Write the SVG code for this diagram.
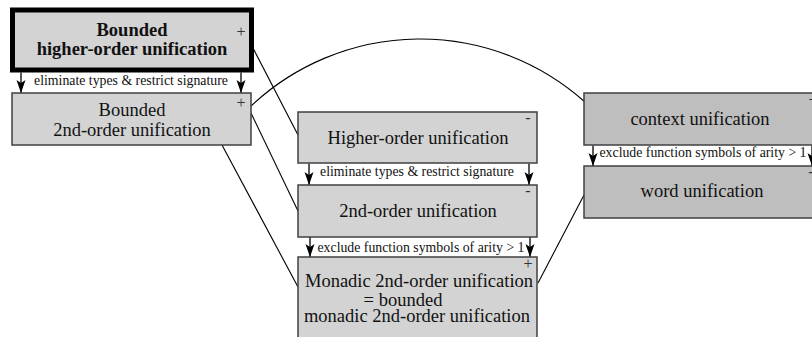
<svg xmlns="http://www.w3.org/2000/svg" width="812" height="337" viewBox="0 0 812 337">
<defs>
<marker id="ah" markerUnits="userSpaceOnUse" markerWidth="14" markerHeight="12" viewBox="-13 -6 14 12" refX="0" refY="0" orient="auto">
<path d="M0,0 L-13,-4.5 L-10,0 L-13,4.5 Z" fill="#000"/>
</marker>
<style>
.n{fill:#d3d3d3;stroke:#404040;stroke-width:1.5}
.d{fill:#bebebe;stroke:#404040;stroke-width:1.5}
text{font-family:'Liberation Serif','DejaVu Serif',serif}
.t{font-size:18.5px;fill:#111;text-anchor:middle}
.b{font-weight:bold}
.s{font-size:16px;fill:#333;text-anchor:middle}
.l{font-size:13.8px;fill:#111;text-anchor:middle}
.c{fill:none;stroke:#000;stroke-width:1.1}
.a{fill:none;stroke:#000;stroke-width:1.3;marker-end:url(#ah)}
</style>
</defs>
<rect width="812" height="337" fill="#fff"/>
<g id="connectors">
<path class="c" d="M253,48 L298,135"/>
<path class="c" d="M251,106 A247,247 0 0,1 585,102"/>
<path class="c" d="M251,113 L298,211"/>
<path class="c" d="M222,145 L298,287"/>
<path class="c" d="M538,283 L584,195"/>
<path class="a" d="M21,72.5 L21,93"/>
<path class="a" d="M241,72.5 L241,93"/>
<text class="l" x="131" y="85">eliminate types &amp; restrict signature</text>
<path class="a" d="M309,163.5 L309,185"/>
<path class="a" d="M529,163.5 L529,185"/>
<text class="l" x="417" y="176">eliminate types &amp; restrict signature</text>
<path class="a" d="M310,237 L310,257"/>
<path class="a" d="M530,237 L530,257"/>
<text class="l" x="421" y="252">exclude function symbols of arity &gt; 1</text>
<path class="a" d="M593,145.5 L593,166"/>
<path class="a" d="M812,145.5 L812,166"/>
<text class="l" x="703" y="157">exclude function symbols of arity &gt; 1</text>
</g>
<g id="bounded-ho">
<rect x="12.5" y="10" width="239" height="60" fill="#d3d3d3" stroke="#000" stroke-width="5"/>
<text class="t b" x="132" y="36">Bounded</text>
<text class="t b" x="132" y="55">higher-order unification</text>
<text class="s" x="241" y="37">+</text>
</g>
<g id="bounded-2nd">
<rect class="n" x="12" y="93" width="239" height="52"/>
<text class="t" x="132" y="116">Bounded</text>
<text class="t" x="132" y="136">2nd-order unification</text>
<text class="s" x="241" y="108">+</text>
</g>
<g id="ho">
<rect class="n" x="298" y="112" width="239" height="51"/>
<text class="t" x="418" y="144">Higher-order unification</text>
<text class="s" x="528" y="123">-</text>
</g>
<g id="so">
<rect class="n" x="298" y="185" width="239" height="52"/>
<text class="t" x="418" y="217">2nd-order unification</text>
<text class="s" x="528" y="196">-</text>
</g>
<g id="monadic">
<rect class="n" x="298" y="257" width="239" height="100"/>
<text class="t" x="419" y="287">Monadic 2nd-order unification</text>
<text class="t" x="403" y="306">= bounded</text>
<text class="t" x="417" y="322">monadic 2nd-order unification</text>
<text class="s" x="528" y="269">+</text>
</g>
<g id="context">
<rect class="d" x="584" y="93" width="239" height="52"/>
<text class="t" x="700" y="125">context unification</text>
<text class="s" x="813" y="105">+</text>
</g>
<g id="word">
<rect class="d" x="584" y="166" width="239" height="52"/>
<text class="t" x="702" y="197">word unification</text>
<text class="s" x="811" y="177">-</text>
</g>
</svg>
